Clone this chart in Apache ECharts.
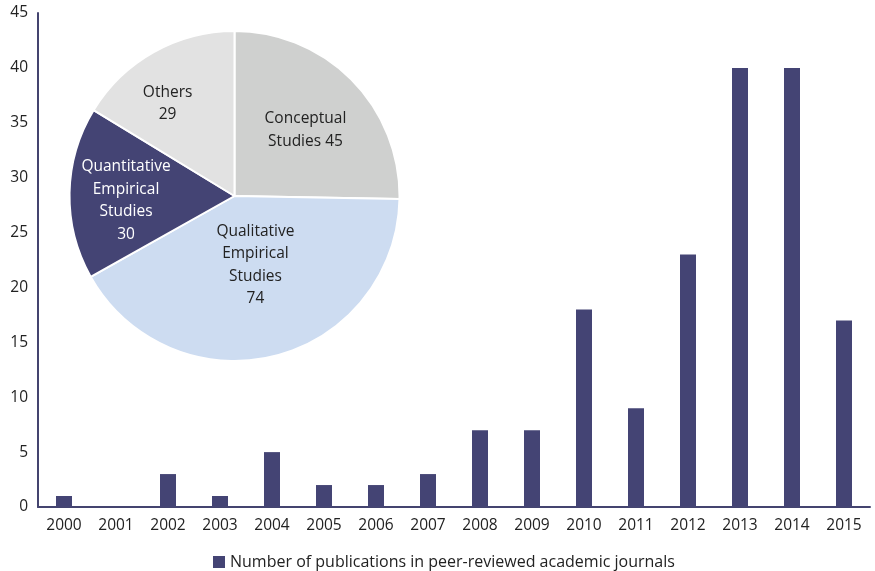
<!DOCTYPE html>
<html><head><meta charset="utf-8">
<script src="https://cdn.jsdelivr.net/npm/echarts@6/dist/echarts.min.js"></script>
<style>html,body{margin:0;padding:0;background:#fff}#c{width:875px;height:571px}</style>
</head><body><div id="c"></div>
<script>
var years = ['2000','2001','2002','2003','2004','2005','2006','2007','2008','2009','2010','2011','2012','2013','2014','2015'];
var publications = [1,0,3,1,5,2,2,3,7,7,18,9,23,40,40,17];
var pieNames = ['Conceptual\nStudies', 'Qualitative\nEmpirical\nStudies', 'Quantitative\nEmpirical\nStudies', 'Others'];
var pieValues = [45, 74, 30, 29];
var pieSep = [' ', '\n', '\n', '\n'];
var pieColors = ['#cfd0cf', '#cddcf1', '#444474', '#e2e2e2'];
var pieLabelColors = ['#222', '#222', '#fff', '#222'];
var pieOffsets = [[10, -6], [0, -14], [-23, 6], [-25, -18]];
var FONT = '"Open Sans", "Noto Sans", sans-serif';

var chart = echarts.init(document.getElementById('c'));
chart.setOption({
  animation: false,
  textStyle: {fontFamily: FONT},
  grid: {left: 38, right: 5, top: 13, bottom: 64},
  legend: {
    top: 549, left: 208, itemWidth: 12, itemHeight: 12, itemGap: 7,
    data: [{name: 'Number of publications in peer-reviewed academic journals', icon: 'rect'}],
    textStyle: {fontSize: 16, color: '#222', fontFamily: FONT}
  },
  xAxis: {
    type: 'category', data: years,
    axisLine: {lineStyle: {color: '#44446f', width: 2}},
    axisTick: {show: false},
    axisLabel: {fontSize: 15.5, color: '#222', margin: 11, fontFamily: FONT}
  },
  yAxis: {
    type: 'value', min: 0, max: 45, interval: 5,
    axisLine: {show: true, lineStyle: {color: '#44446f', width: 2}},
    axisTick: {show: false},
    splitLine: {show: false},
    axisLabel: {fontSize: 15.5, color: '#222', margin: 10, fontFamily: FONT}
  },
  series: [{
    name: 'Number of publications in peer-reviewed academic journals',
    type: 'bar', data: publications, barWidth: 16,
    itemStyle: {color: '#444474'}
  }, {
    type: 'pie', center: [234.5, 196], radius: [0, 165],
    startAngle: 90, clockwise: true,
    label: {position: 'inside', fontSize: 15.5, lineHeight: 22.5, fontFamily: FONT},
    labelLine: {show: false},
    itemStyle: {borderColor: '#fff', borderWidth: 2},
    data: pieNames.map(function (n, i) {
      return {
        name: n, value: pieValues[i],
        itemStyle: {color: pieColors[i]},
        label: {color: pieLabelColors[i], offset: pieOffsets[i],
          formatter: n + pieSep[i] + pieValues[i]}
      };
    })
  }]
});
</script></body></html>
